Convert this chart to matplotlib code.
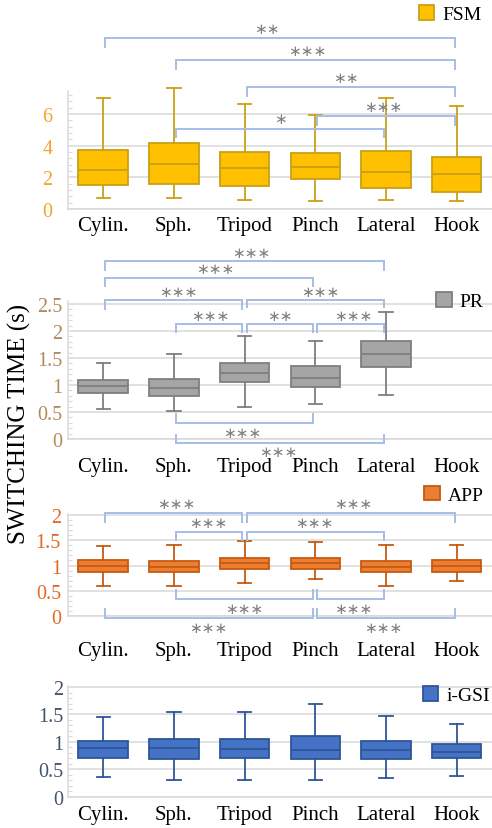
import matplotlib.pyplot as plt
from matplotlib.patches import Patch
from matplotlib.ticker import AutoMinorLocator

categories = ['Cylin.', 'Sph.', 'Tripod', 'Pinch', 'Lateral', 'Hook']

# FSM
fsm_whislo = [0.67, 0.67, 0.55, 0.50, 0.59, 0.50]
fsm_q1 = [1.54, 1.58, 1.47, 1.87, 1.35, 1.05]
fsm_med = [2.46, 2.84, 2.59, 2.67, 2.32, 2.23]
fsm_q3 = [3.75, 4.19, 3.60, 3.54, 3.64, 3.26]
fsm_whishi = [7.01, 7.64, 6.63, 5.94, 6.99, 6.53]

# PR (no Hook)
pr_whislo = [0.56, 0.51, 0.59, 0.64, 0.81]
pr_q1 = [0.86, 0.80, 1.06, 0.96, 1.33]
pr_med = [0.975, 0.94, 1.22, 1.13, 1.57]
pr_q3 = [1.09, 1.12, 1.41, 1.35, 1.81]
pr_whishi = [1.41, 1.57, 1.91, 1.81, 2.36]

# APP
app_whislo = [0.60, 0.59, 0.65, 0.73, 0.59, 0.69]
app_q1 = [0.87, 0.87, 0.93, 0.93, 0.87, 0.87]
app_med = [0.99, 0.98, 1.05, 1.05, 0.98, 0.99]
app_q3 = [1.10, 1.09, 1.15, 1.15, 1.09, 1.10]
app_whishi = [1.39, 1.41, 1.48, 1.47, 1.41, 1.41]

# i-GSI
gsi_whislo = [0.36, 0.31, 0.31, 0.31, 0.34, 0.38]
gsi_q1 = [0.71, 0.68, 0.71, 0.68, 0.68, 0.71]
gsi_med = [0.89, 0.88, 0.87, 0.85, 0.85, 0.82]
gsi_q3 = [1.02, 1.06, 1.05, 1.10, 1.01, 0.96]
gsi_whishi = [1.45, 1.54, 1.54, 1.70, 1.47, 1.32]

# significance brackets: (from, to, bar y, tip y, label, label y, label x shift)
fsm_sig = [(0, 5, 10.80, 10.23, '**', 11.37, -0.18),
           (1, 5, 9.41, 8.84, '***', 9.98, -0.12),
           (2, 5, 7.71, 7.14, '**', 8.28, -0.07),
           (3, 5, 5.87, 5.31, '***', 6.50, -0.04),
           (1, 4, 5.05, 4.55, '*', 5.69, 0.0)]
pr_sig = [(0, 4, 3.30, 3.13, '***', 3.46, 0.1),
          (0, 3, 2.98, 2.83, '***', 3.15, 0.08),
          (0, 2, 2.57, 2.41, '***', 2.73, 0.06),
          (2, 4, 2.57, 2.44, '***', 2.73, 0.07),
          (1, 2, 2.13, 1.98, '***', 2.28, 0.01),
          (2, 3, 2.13, 1.98, '**', 2.28, 0.0),
          (3, 4, 2.13, 1.98, '***', 2.28, 0.03),
          (1, 3, 0.30, 0.46, '***', 0.13, -0.04),
          (1, 4, -0.074, 0.074, '***', -0.24, -0.03)]
app_sig = [(0, 2, 2.05, 1.87, '***', 2.23, 0.03),
           (2, 5, 2.05, 1.87, '***', 2.23, 0.03),
           (1, 2, 1.67, 1.50, '***', 1.85, -0.02),
           (2, 4, 1.67, 1.50, '***', 1.85, -0.01),
           (1, 3, 0.345, 0.51, '***', 0.147, -0.01),
           (3, 4, 0.345, 0.51, '***', 0.147, 0.03),
           (0, 3, -0.03, 0.13, '***', -0.23, -0.02),
           (3, 5, -0.03, 0.13, '***', -0.23, -0.04)]

serif = 'Liberation Serif'
grid_c = '#D9D9D9'
brk_c = '#A4BDE8'
star_c = '#808080'

panels = [
    # name, whislo, q1, med, q3, whishi, face, edge, tickcolor, ylim, yticks, rect, ypad, xpad, sig, legend anchor
    ('FSM', fsm_whislo, fsm_q1, fsm_med, fsm_q3, fsm_whishi, '#FFC000', '#C9A016', '#F3A42C',
     7.45, [0, 2, 4, 6], [0.138, 0.7467, 0.862, 0.1423], 11, 5, fsm_sig, (0.975, 1.65)),
    ('PR', pr_whislo, pr_q1, pr_med, pr_q3, pr_whishi, '#A5A5A5', '#7F7F7F', '#B08A5C',
     2.55, [0, 0.5, 1, 1.5, 2, 2.5], [0.138, 0.4692, 0.862, 0.1661], 4, 13, pr_sig, (0.98, 1.0)),
    ('APP', app_whislo, app_q1, app_med, app_q3, app_whishi, '#ED7D31', '#C55A11', '#E06A22',
     2.02, [0, 0.5, 1, 1.5, 2], [0.138, 0.2557, 0.862, 0.123], 5, 18, app_sig, (0.98, 1.19)),
    ('i-GSI', gsi_whislo, gsi_q1, gsi_med, gsi_q3, gsi_whishi, '#4472C4', '#2F5597', '#44546A',
     2.02, [0, 0.5, 1, 1.5, 2], [0.138, 0.0378, 0.862, 0.1335], 3, 6, [], (0.995, 0.92)),
]

fig = plt.figure(figsize=(4.92, 8.29), dpi=100)

for (name, wlo, q1, med, q3, whi, face, edge, tc, ytop, yticks, rect, ypad, xpad, sig, lanchor) in panels:
    ax = fig.add_axes(rect)
    stats = [dict(whislo=a, q1=b, med=c, q3=d, whishi=e) for a, b, c, d, e in zip(wlo, q1, med, q3, whi)]
    art = ax.bxp(stats, positions=list(range(len(stats))), widths=0.7, capwidths=0.19,
                 showfliers=False, patch_artist=True,
                 boxprops=dict(facecolor=face, edgecolor=edge, linewidth=1.3),
                 medianprops=dict(color=edge, linewidth=1.3),
                 whiskerprops=dict(color=edge, linewidth=1.3),
                 capprops=dict(color=edge, linewidth=1.3))
    for group in art.values():
        for a in group:
            a.set_clip_on(False)
            a.set_zorder(3)

    ax.set_xlim(-0.5, 5.5)
    ax.set_ylim(0, ytop)
    ax.set_xticks(range(6))
    ax.set_xticklabels(categories, fontsize=15, family=serif, color='black')
    ax.set_yticks(yticks)
    ax.set_yticklabels([f'{v:g}' for v in yticks], fontsize=14.5, family=serif, color=tc)
    ax.yaxis.set_minor_locator(AutoMinorLocator(5))
    ax.tick_params(axis='x', length=0, pad=xpad)
    ax.tick_params(axis='y', which='major', length=0, pad=ypad)
    ax.tick_params(axis='y', which='minor', length=3, direction='in', color=grid_c, width=0.8)
    ax.grid(axis='y', color=grid_c, linewidth=1.1)
    ax.set_axisbelow(True)
    for s in ['top', 'right']:
        ax.spines[s].set_visible(False)
    for s in ['left', 'bottom']:
        ax.spines[s].set_color(grid_c)
        ax.spines[s].set_linewidth(1.1)

    for (i, j, yb, yt, lab, ty, dx) in sig:
        x0, x1 = i + 0.03, j - 0.03
        ax.plot([x0, x0, x1, x1], [yt, yb, yb, yt], color=brk_c, linewidth=1.4,
                clip_on=False, zorder=4, solid_joinstyle='miter')
        ax.text((i + j) / 2 + dx, ty, '\u2217' * len(lab), ha='center', va='center',
                fontsize=11, color=star_c, family='DejaVu Sans', clip_on=False)

    ax.legend(handles=[Patch(facecolor=face, edgecolor=edge, linewidth=1.3, label=name)],
              loc='center right', bbox_to_anchor=lanchor, frameon=False,
              prop=dict(family=serif, size=14), handlelength=0.8, handleheight=0.8,
              handletextpad=0.4, borderpad=0, borderaxespad=0)

fig.text(0.04, 0.4885, 'SWITCHING TIME (s)', rotation=90, ha='center', va='center',
         fontsize=18, family=serif, color='black')

fig.savefig('out.png', dpi=100)
